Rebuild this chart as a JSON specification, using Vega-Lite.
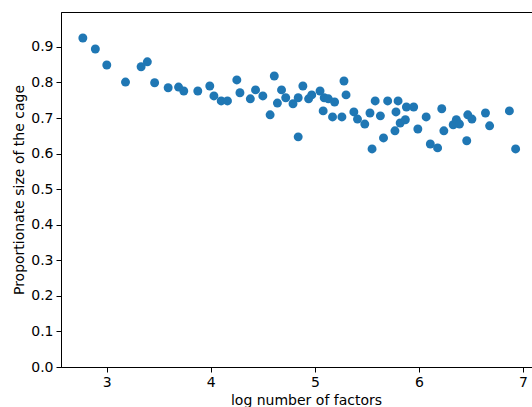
{
  "$schema": "https://vega.github.io/schema/vega-lite/v6.json",
  "autosize": {"type": "none"},
  "padding": {"left": 61, "top": 12, "right": 0, "bottom": 40},
  "width": 490,
  "height": 355,
  "background": "white",
  "data": {
    "values": [
      {"x": 2.77, "y": 0.925}, {"x": 2.89, "y": 0.894}, {"x": 3.0, "y": 0.849}, {"x": 3.18, "y": 0.801},
      {"x": 3.33, "y": 0.844}, {"x": 3.39, "y": 0.858}, {"x": 3.46, "y": 0.799}, {"x": 3.59, "y": 0.785},
      {"x": 3.69, "y": 0.787}, {"x": 3.74, "y": 0.776}, {"x": 3.875, "y": 0.776}, {"x": 3.99, "y": 0.79},
      {"x": 4.03, "y": 0.762}, {"x": 4.1, "y": 0.748}, {"x": 4.16, "y": 0.748}, {"x": 4.25, "y": 0.807},
      {"x": 4.28, "y": 0.771}, {"x": 4.38, "y": 0.754}, {"x": 4.43, "y": 0.779}, {"x": 4.5, "y": 0.762},
      {"x": 4.57, "y": 0.709}, {"x": 4.61, "y": 0.818}, {"x": 4.64, "y": 0.742}, {"x": 4.68, "y": 0.779},
      {"x": 4.72, "y": 0.757}, {"x": 4.79, "y": 0.74}, {"x": 4.84, "y": 0.757}, {"x": 4.84, "y": 0.647},
      {"x": 4.885, "y": 0.79}, {"x": 4.94, "y": 0.754}, {"x": 4.97, "y": 0.765}, {"x": 5.05, "y": 0.776},
      {"x": 5.08, "y": 0.72}, {"x": 5.09, "y": 0.757}, {"x": 5.13, "y": 0.754}, {"x": 5.17, "y": 0.703},
      {"x": 5.19, "y": 0.745}, {"x": 5.26, "y": 0.703}, {"x": 5.28, "y": 0.804}, {"x": 5.3, "y": 0.765},
      {"x": 5.375, "y": 0.717}, {"x": 5.41, "y": 0.697}, {"x": 5.48, "y": 0.683}, {"x": 5.53, "y": 0.714},
      {"x": 5.55, "y": 0.613}, {"x": 5.58, "y": 0.748}, {"x": 5.63, "y": 0.706}, {"x": 5.66, "y": 0.644},
      {"x": 5.7, "y": 0.748}, {"x": 5.77, "y": 0.664}, {"x": 5.78, "y": 0.717}, {"x": 5.8, "y": 0.748},
      {"x": 5.82, "y": 0.686}, {"x": 5.87, "y": 0.695}, {"x": 5.88, "y": 0.731}, {"x": 5.95, "y": 0.731},
      {"x": 5.99, "y": 0.669}, {"x": 6.07, "y": 0.703}, {"x": 6.11, "y": 0.627}, {"x": 6.18, "y": 0.616},
      {"x": 6.22, "y": 0.726}, {"x": 6.24, "y": 0.664}, {"x": 6.33, "y": 0.681}, {"x": 6.36, "y": 0.695},
      {"x": 6.39, "y": 0.683}, {"x": 6.46, "y": 0.636}, {"x": 6.47, "y": 0.709}, {"x": 6.51, "y": 0.697},
      {"x": 6.64, "y": 0.714}, {"x": 6.68, "y": 0.678}, {"x": 6.87, "y": 0.72}, {"x": 6.93, "y": 0.613}
    ]
  },
  "mark": {"type": "circle", "size": 80, "opacity": 1, "color": "#1f77b4"},
  "encoding": {
    "x": {
      "field": "x", "type": "quantitative", "title": "log number of factors",
      "scale": {"domain": [2.56, 7.27], "nice": false, "zero": false},
      "axis": {"values": [3, 4, 5, 6, 7], "format": "d", "grid": false}
    },
    "y": {
      "field": "y", "type": "quantitative", "title": "Proportionate size of the cage",
      "scale": {"domain": [0, 0.998], "nice": false},
      "axis": {"values": [0, 0.1, 0.2, 0.3, 0.4, 0.5, 0.6, 0.7, 0.8, 0.9], "format": ".1f", "grid": false}
    }
  },
  "config": {
    "view": {"stroke": "black", "strokeWidth": 1},
    "axis": {
      "domainColor": "black", "tickColor": "black", "labelColor": "black", "titleColor": "black",
      "labelFont": "DejaVu Sans", "titleFont": "DejaVu Sans", "labelFontSize": 14, "titleFontSize": 14,
      "titleFontWeight": "normal", "tickSize": 5, "labelPadding": 3
    }
  }
}
